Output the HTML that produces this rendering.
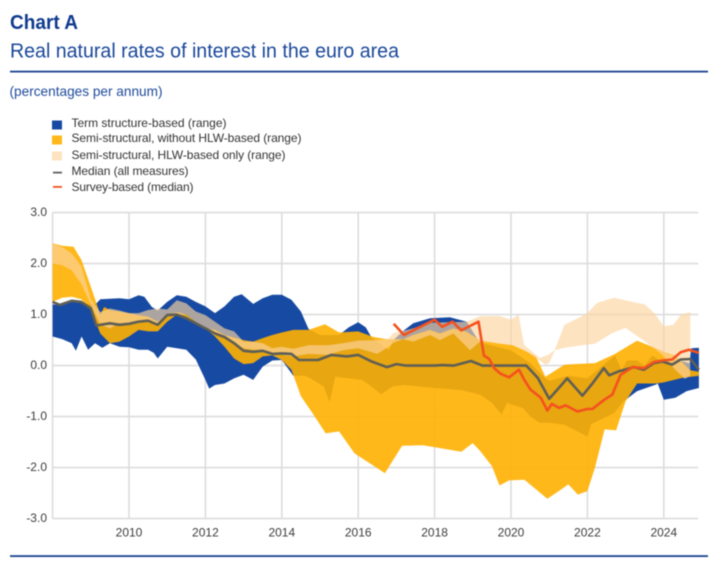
<!DOCTYPE html>
<html lang="en">
<head>
<meta charset="utf-8">
<title>Real natural rates of interest in the euro area</title>
<style>
html,body{margin:0;padding:0;background:#fff;}
#page{position:relative;width:721px;height:563px;overflow:hidden;background:#fff;}
svg{position:absolute;left:0;top:0;display:block;}
text{font-family:"Liberation Sans",Arial,sans-serif;}
.soft{filter:blur(0.45px);}
</style>
</head>
<body>
<div id="page">
<svg id="chart" class="soft" width="721" height="563" viewBox="0 0 721 563" xmlns="http://www.w3.org/2000/svg">
  <text x="10" y="29" font-size="20" font-weight="700" fill="#0f3a8e" textLength="68" lengthAdjust="spacingAndGlyphs">Chart A</text>
  <text x="10" y="57.5" font-size="20" fill="#1a479a" textLength="389" lengthAdjust="spacingAndGlyphs">Real natural rates of interest in the euro area</text>
  <rect x="10" y="70.7" width="698" height="1.8" fill="#1a4490"/>
  <text x="9.5" y="96" font-size="14" fill="#1f4a9c" textLength="153" lengthAdjust="spacingAndGlyphs">(percentages per annum)</text>

  <g id="legend">
    <rect x="52" y="120.5" width="10" height="9" fill="#174aa3"/>
    <text x="71.5" y="127" font-size="12" fill="#333" textLength="155" lengthAdjust="spacing">Term structure-based (range)</text>
    <rect x="52" y="135.5" width="10" height="9" fill="#ffb81a"/>
    <text x="71.5" y="142" font-size="12" fill="#333" textLength="230" lengthAdjust="spacing">Semi-structural, without HLW-based (range)</text>
    <rect x="52" y="151.5" width="10" height="9" fill="#fde3c0"/>
    <text x="71.5" y="159" font-size="12" fill="#333" textLength="214" lengthAdjust="spacing">Semi-structural, HLW-based only (range)</text>
    <rect x="53" y="171.7" width="9" height="1.8" fill="#5f5f5f"/>
    <text x="71.5" y="175" font-size="12" fill="#333" textLength="117" lengthAdjust="spacing">Median (all measures)</text>
    <rect x="53" y="186" width="9" height="1.8" fill="#f4511e"/>
    <text x="71.5" y="191" font-size="12" fill="#333" textLength="122" lengthAdjust="spacing">Survey-based (median)</text>
  </g>

  <g id="grid"></g>
  <g id="bands"></g>
  <g id="lines"></g>
  <g id="xticks"></g>
  <g id="yticks"></g>

  <rect x="10" y="555.2" width="698" height="1.8" fill="#1a4490"/>
</svg>
</div>
<script>
var xTicks = [2010, 2012, 2014, 2016, 2018, 2020, 2022, 2024];
var yTicks = [3, 2, 1, 0, -1, -2, -3];

var termTopDates = [2008,2008.25,2008.5,2009,2009.15,2009.25,2009.5,2009.75,2010,2010.25,2010.4,2010.6,2010.75,2011,2011.25,2011.5,2011.75,2012,2012.25,2012.5,2012.75,2012.95,2013.25,2013.5,2013.75,2014,2014.25,2014.5,2014.7,2015,2015.5,2015.75,2016,2016.2,2016.35,2016.8,2016.92,2017.18,2017.44,2017.88,2018.4,2018.84,2019.1,2019.2,2020,2020.5,2020.9,2021,2021.5,2022,2022.4,2022.72,2022.9,2023.03,2023.3,2023.5,2023.7,2023.9,2024.4,2024.67,2024.72,2024.92];
var termTopValues = [1.2,1.18,1.25,1.2,1.22,1.3,1.31,1.32,1.3,1.38,1.35,1.15,1.08,1.25,1.38,1.35,1.25,1.16,1.03,1.16,1.35,1.4,1.21,1.32,1.39,1.39,1.29,1.06,0.72,0.6,0.6,0.75,0.85,0.75,0.55,0.3,0.5,0.68,0.83,0.93,0.95,0.86,0.55,0.45,0.3,0.05,-0.25,-0.3,-0.2,-0.25,0,0.2,-0.1,0.1,0.1,0,0.2,0.1,0.1,0.05,0.34,0.35];
var termBottomDates = [2008,2008.25,2008.5,2008.61,2008.76,2008.93,2009.11,2009.3,2009.5,2009.75,2010,2010.25,2010.5,2010.65,2010.75,2011,2011.25,2011.5,2011.75,2012,2012.1,2012.25,2012.5,2012.75,2013,2013.25,2013.5,2013.75,2014,2014.3,2014.6,2014.75,2015.1,2015.25,2015.4,2016.1,2016.35,2016.6,2016.9,2017.2,2018,2018.7,2019.2,2019.5,2019.75,2019.9,2020,2020.3,2020.5,2020.75,2021,2021.4,2022,2022.1,2022.7,2022.95,2023.3,2023.8,2023.84,2024,2024.3,2024.6,2024.92];
var termBottomValues = [0.57,0.52,0.44,0.29,0.57,0.31,0.44,0.35,0.44,0.37,0.36,0.31,0.31,0.25,0.14,0.37,0.34,0.31,0.12,-0.28,-0.45,-0.38,-0.35,-0.25,-0.18,-0.28,-0.02,0.1,0.11,-0.2,-0.2,-0.25,-0.41,-0.72,-0.22,-0.28,-0.41,-0.56,-0.41,-0.38,-0.44,-0.48,-0.57,-0.73,-0.96,-0.73,-0.76,-0.83,-0.99,-1.12,-1.12,-1.16,-1.39,-1.15,-0.93,-0.7,-0.5,-0.37,-0.35,-0.67,-0.63,-0.5,-0.44];

var semiTopDates = [2008,2008.25,2008.55,2008.65,2008.75,2009,2009.25,2009.35,2009.5,2009.75,2010,2010.25,2010.5,2010.75,2011,2011.25,2011.5,2011.75,2012,2012.25,2012.5,2012.75,2013,2013.25,2013.5,2013.75,2014,2014.3,2014.7,2015.13,2015.5,2016,2016.4,2016.75,2017.18,2017.44,2017.88,2018.14,2018.49,2018.84,2019.19,2019.65,2020.05,2020.4,2020.65,2020.9,2021.4,2022.2,2022.7,2023.3,2023.6,2024,2024.3,2024.69,2024.92];
var semiTopValues = [2.4,2.35,2.33,2.2,2.08,1.55,1.0,1.15,1.09,1.06,1.03,0.99,0.96,0.86,1.0,1.05,1.0,0.86,0.73,0.7,0.6,0.55,0.5,0.47,0.54,0.6,0.65,0.7,0.7,0.81,0.65,0.67,0.56,0.52,0.515,0.6,0.7,0.63,0.73,0.66,0.5,0.44,0.4,0.28,0.18,-0.22,0.02,0.05,0.22,0.49,0.4,0.27,0.2,-0.09,-0.12];
var semiBottomDates = [2008,2008.25,2008.5,2008.75,2009,2009.25,2009.5,2009.75,2010,2010.25,2010.5,2010.75,2011,2011.25,2011.5,2011.75,2012,2012.25,2012.5,2012.75,2013,2013.25,2013.5,2013.75,2014,2014.25,2014.5,2014.8,2015.15,2015.5,2015.9,2016.7,2017.15,2017.7,2018.7,2019,2019.2,2019.5,2019.7,2019.95,2020.35,2020.95,2021.25,2021.5,2021.75,2022,2022.2,2022.45,2022.75,2023,2023.3,2023.8,2024,2024.5,2024.92];
var semiBottomValues = [1.25,1.33,1.35,1.3,1.1,0.63,0.44,0.47,0.57,0.7,0.67,0.67,0.86,1.0,0.93,0.83,0.73,0.57,0.37,0.14,0.03,0.05,0.18,0.2,0.11,-0.08,-0.6,-0.93,-1.33,-1.29,-1.72,-2.11,-1.57,-1.56,-1.69,-1.52,-1.68,-1.97,-2.35,-2.25,-2.24,-2.61,-2.46,-2.33,-2.53,-2.46,-2,-1.25,-1.27,-0.7,-0.35,-0.35,-0.33,-0.24,-0.2];

var hlwTopDates = [2008,2008.25,2008.5,2008.75,2009,2009.25,2009.5,2009.75,2010,2010.25,2010.5,2010.75,2011,2011.25,2011.5,2011.75,2012,2012.25,2012.5,2012.75,2013,2013.25,2013.5,2013.75,2014,2014.3,2014.7,2015.2,2015.6,2016,2016.5,2016.8,2016.92,2017.18,2017.44,2017.88,2018.4,2018.84,2019.19,2019.7,2020,2020.2,2020.34,2020.75,2021,2021.15,2021.4,2021.75,2022,2022.25,2022.7,2023.1,2023.5,2023.75,2024,2024.25,2024.45,2024.69];
var hlwTopValues = [2.4,2.32,2.2,1.95,1.3,1.05,1.12,1.08,1.03,1.03,1.09,1.12,1.1,1.28,1.22,1.06,0.99,0.86,0.73,0.67,0.47,0.47,0.44,0.34,0.37,0.33,0.4,0.4,0.44,0.49,0.5,0.53,0.64,0.68,0.73,0.84,0.85,0.86,0.97,0.97,0.9,1.0,0.41,0.15,0.22,0.31,0.8,0.93,1.03,1.23,1.33,1.26,1.2,1.03,0.77,0.8,1.0,1.05];
var hlwBottomDates = [2008,2008.25,2008.5,2008.75,2009,2009.25,2009.5,2009.75,2010,2010.25,2010.5,2010.75,2011,2011.25,2011.5,2011.75,2012,2012.25,2012.5,2012.75,2013,2013.25,2013.5,2013.75,2014,2014.3,2014.7,2015.2,2015.6,2016,2016.5,2016.8,2016.92,2017.18,2017.44,2017.88,2018.14,2018.49,2018.93,2019.19,2019.65,2020.05,2020.4,2020.65,2020.9,2021,2021.15,2021.4,2021.95,2022.2,2022.65,2023,2023.3,2023.5,2023.95,2024.3,2024.55,2024.69];
var hlwBottomValues = [2.0,1.97,1.87,1.6,1.2,0.8,0.73,0.83,0.8,0.83,0.9,0.8,1.0,1.0,1.0,0.86,0.73,0.63,0.57,0.44,0.34,0.31,0.31,0.24,0.21,0.18,0.23,0.21,0.3,0.34,0.23,0.37,0.45,0.515,0.47,0.6,0.5,0.63,0.3,0.47,0.44,0.4,0.28,0.15,0.02,0.05,0.3,0.35,0.41,0.43,0.64,0.74,0.58,0.48,0.22,-0.08,-0.26,-0.2];

var medianDates = [2008,2008.19,2008.5,2008.75,2009,2009.15,2009.25,2009.5,2009.75,2010,2010.25,2010.5,2010.75,2011,2011.25,2011.5,2011.75,2012,2012.25,2012.5,2012.75,2013,2013.25,2013.5,2013.75,2014,2014.25,2014.45,2014.95,2015.3,2015.7,2016,2016.35,2016.75,2017,2017.25,2018,2018.2,2018.5,2018.95,2019.25,2020.4,2020.7,2021,2021.25,2021.47,2021.87,2022.13,2022.43,2022.57,2022.83,2023.22,2023.48,2023.74,2023.96,2024.22,2024.44,2024.7,2024.92];
var medianValues = [1.25,1.19,1.27,1.25,1.12,0.78,0.8,0.83,0.8,0.82,0.86,0.88,0.8,0.99,1.0,0.93,0.83,0.73,0.63,0.56,0.44,0.29,0.27,0.29,0.23,0.24,0.23,0.11,0.11,0.21,0.18,0.21,0.08,-0.03,0.03,0,0,0.01,0,0.09,0,0,-0.24,-0.65,-0.44,-0.25,-0.59,-0.35,-0.05,-0.19,-0.11,-0.03,-0.08,0.05,0.08,0.02,0.12,0.13,-0.08];

var surveyDates = [2016.93,2017.2,2018,2018.2,2018.47,2018.7,2019.15,2019.29,2019.43,2019.56,2019.73,2019.95,2020.21,2020.34,2020.51,2020.78,2020.95,2021.07,2021.26,2021.43,2021.74,2022,2022.13,2022.44,2022.65,2022.87,2023.18,2023.48,2023.74,2023.96,2024.22,2024.44,2024.66,2024.92];
var surveyValues = [0.82,0.6,0.9,0.76,0.86,0.69,0.86,0.2,0.13,-0.05,-0.16,-0.23,-0.08,-0.27,-0.47,-0.63,-0.88,-0.75,-0.83,-0.78,-0.9,-0.85,-0.85,-0.67,-0.57,-0.18,-0.03,-0.05,0.07,0.1,0.12,0.26,0.31,0.25];

var NS = 'http://www.w3.org/2000/svg';
function xScale(t) { return 52.6 + 38.2 * (t - 2008); }
function yScale(v) { return 365.6 - 51 * v; }
function pts(dates, values) {
  var out = [];
  for (var i = 0; i < dates.length; i++) {
    out.push(xScale(dates[i]).toFixed(1) + ',' + yScale(values[i]).toFixed(1));
  }
  return out;
}
function band(topDates, topValues, bottomDates, bottomValues, fill, opacity) {
  var el = document.createElementNS(NS, 'polygon');
  var poly = pts(topDates, topValues).concat(pts(bottomDates, bottomValues).reverse());
  el.setAttribute('points', poly.join(' '));
  el.setAttribute('fill', fill);
  el.setAttribute('fill-opacity', opacity);
  document.getElementById('bands').appendChild(el);
  return el;
}
function line(dates, values, stroke, width) {
  var el = document.createElementNS(NS, 'polyline');
  el.setAttribute('points', pts(dates, values).join(' '));
  el.setAttribute('fill', 'none');
  el.setAttribute('stroke', stroke);
  el.setAttribute('stroke-width', width);
  el.setAttribute('stroke-linejoin', 'round');
  document.getElementById('lines').appendChild(el);
  return el;
}
function gridLine(x1, y1, x2, y2) {
  var el = document.createElementNS(NS, 'line');
  el.setAttribute('x1', x1);
  el.setAttribute('y1', y1);
  el.setAttribute('x2', x2);
  el.setAttribute('y2', y2);
  el.setAttribute('stroke', '#dcdcdc');
  el.setAttribute('stroke-width', '1.6');
  document.getElementById('grid').appendChild(el);
  return el;
}
function label(parentId, x, y, anchor, str) {
  var el = document.createElementNS(NS, 'text');
  el.setAttribute('x', x);
  el.setAttribute('y', y);
  el.setAttribute('text-anchor', anchor);
  el.setAttribute('font-size', '12');
  el.setAttribute('fill', '#3c3c3c');
  el.textContent = str;
  document.getElementById(parentId).appendChild(el);
  return el;
}

var plotLeft = xScale(2008), plotRight = xScale(2024.9), plotTop = yScale(3), plotBottom = yScale(-3);

yTicks.forEach(function (v) {
  var g = gridLine(plotLeft, yScale(v), plotRight, yScale(v));
  
  
  var t = label('yticks', 47, yScale(v) + 3.5, 'end', v.toFixed(1));
  
  
});
var axisLeft = gridLine(plotLeft, plotTop, plotLeft, plotBottom);


xTicks.forEach(function (y) {
  var g = gridLine(xScale(y), plotTop, xScale(y), plotBottom);
  
  
  var t = label('xticks', xScale(y), 536.5, 'middle', String(y));
  
  
});

var termBand = band(termTopDates, termTopValues, termBottomDates, termBottomValues, '#174aa3', 1);


var semiBand = band(semiTopDates, semiTopValues, semiBottomDates, semiBottomValues, 'rgb(255,176,1)', 0.9);


var hlwBand = band(hlwTopDates, hlwTopValues, hlwBottomDates, hlwBottomValues, 'rgb(252,212,158)', 0.65);


var medianLine = line(medianDates, medianValues, '#5f5f55', 2.6);


var surveyLine = line(surveyDates, surveyValues, '#f4511e', 2.6);


</script>
</body>
</html>
